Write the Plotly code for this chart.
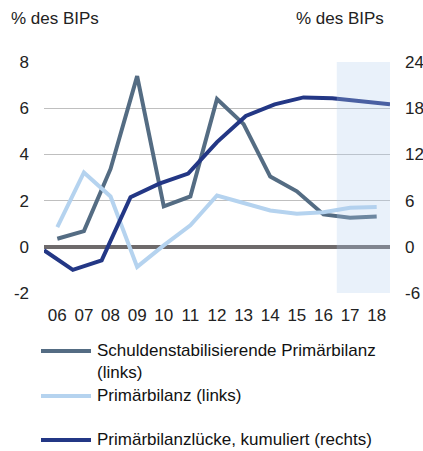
import plotly.graph_objects as go

years = ["06", "07", "08", "09", "10", "11", "12", "13", "14", "15", "16", "17", "18"]
schulden = [0.35, 0.68, 3.37, 7.39, 1.75, 2.18, 6.4, 5.31, 3.04, 2.4, 1.4, 1.26, 1.31]
primaer = [0.85, 3.22, 2.18, -0.87, 0.06, 0.93, 2.22, 1.89, 1.57, 1.43, 1.5, 1.69, 1.72]
luecke = [-0.45, -3.0, -1.75, 6.44, 8.2, 9.5, 13.6, 17.0, 18.5, 19.4, 19.3, 18.9, 18.5]

left_ticks = [-2, 0, 2, 4, 6, 8]
right_ticks = [-6, 0, 6, 12, 18, 24]
forecast_years = ["17", "18"]

C_SCHULD = "#546C83"
C_PRIM = "#B5D3EF"
C_LUECKE = "#233785"

W, H = 423, 451
L, R, T, B = 44, 33, 62, 158
PW, PH = W - L - R, H - T - B

def px(x):
    return (x - L) / PW

def py(y):
    return (H - B - y) / PH

idx = list(range(len(years)))

fig = go.Figure()
fig.add_trace(go.Scatter(x=idx, y=schulden, mode="lines", line=dict(color=C_SCHULD, width=4),
                         name="Schuldenstabilisierende Primärbilanz (links)", showlegend=False))
fig.add_trace(go.Scatter(x=idx, y=primaer, mode="lines", line=dict(color=C_PRIM, width=4),
                         name="Primärbilanz (links)", showlegend=False))
fig.add_trace(go.Scatter(x=idx, y=luecke, mode="lines", line=dict(color=C_LUECKE, width=4),
                         name="Primärbilanzlücke, kumuliert (rechts)", xaxis="x2", yaxis="y2",
                         showlegend=False))

f0 = years.index(forecast_years[0]) - 0.5
f1 = years.index(forecast_years[-1]) + 0.5
fig.add_shape(type="rect", xref="x", yref="y", x0=f0, x1=f1, y0=left_ticks[0], y1=left_ticks[-1],
              fillcolor="rgba(177,205,237,0.28)", line=dict(width=0), layer="above")

FS = 17
font = dict(family="Liberation Sans, Arial, sans-serif", size=FS, color="#222222")

fig.update_layout(
    width=W, height=H, autosize=False,
    margin=dict(l=L, r=R, t=T, b=B, autoexpand=False),
    paper_bgcolor="white", plot_bgcolor="white",
    font=font,
    showlegend=False,
    xaxis=dict(tickmode="array", tickvals=idx, ticktext=years, range=[-0.5, len(years) - 0.5],
               showgrid=False, zeroline=False, showline=False, ticks="", ticklabelstandoff=10,
               automargin=False, tickfont=dict(size=FS, color="#222222")),
    xaxis2=dict(overlaying="x", range=[0, len(years) - 1], visible=False),
    yaxis=dict(range=[left_ticks[0], left_ticks[-1]], tickmode="array", tickvals=left_ticks,
               ticktext=[str(v) for v in left_ticks], showgrid=True,
               gridcolor="#BFBFBF", gridwidth=1, zeroline=True, zerolinecolor="#6E6A6B",
               zerolinewidth=4, showline=False, ticks="", ticklabelstandoff=14, automargin=False,
               tickfont=dict(size=FS, color="#222222")),
    yaxis2=dict(overlaying="y", side="right", anchor="x", range=[right_ticks[0], right_ticks[-1]],
                tickmode="array", tickvals=right_ticks, ticktext=[str(v) for v in right_ticks],
                showgrid=False, zeroline=False, showline=False, ticks="",
                ticklabelstandoff=14, automargin=False, tickfont=dict(size=FS, color="#222222")),
)

fig.add_annotation(text="% des BIPs", xref="paper", yref="paper", x=px(9), y=py(18),
                   xanchor="left", yanchor="middle", showarrow=False, font=font)
fig.add_annotation(text="% des BIPs", xref="paper", yref="paper", x=px(386), y=py(18),
                   xanchor="right", yanchor="middle", showarrow=False, font=font)

legend_items = [
    (C_SCHULD, 351, ["Schuldenstabilisierende Primärbilanz", "(links)"]),
    (C_PRIM, 396, ["Primärbilanz (links)"]),
    (C_LUECKE, 440, ["Primärbilanzlücke, kumuliert (rechts)"]),
]
for color, ypix, lines in legend_items:
    fig.add_shape(type="line", xref="paper", yref="paper", x0=px(41), x1=px(91), y0=py(ypix), y1=py(ypix),
                  line=dict(color=color, width=4))
    for i, t in enumerate(lines):
        fig.add_annotation(text=t, xref="paper", yref="paper", x=px(95), y=py(ypix - 0.5 + i * 21.7),
                           xanchor="left", yanchor="middle", showarrow=False,
                           font=dict(family=font["family"], size=FS, color="#111111"))

fig.write_html("out.html", config={"responsive": False, "displayModeBar": False},
               post_script="document.body.style.margin='0';document.body.style.overflow='hidden';")
